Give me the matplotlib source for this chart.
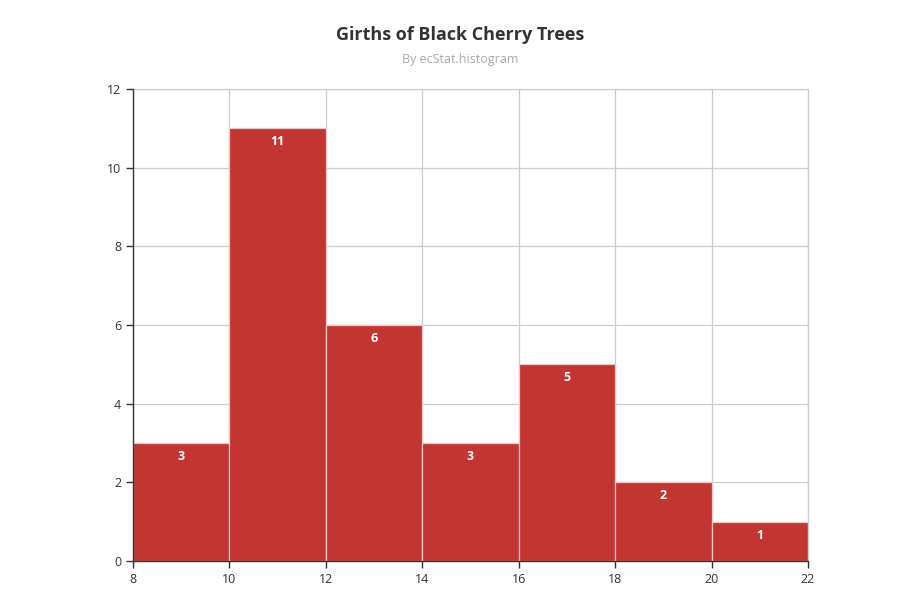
import matplotlib
matplotlib.use("Agg")
import matplotlib.pyplot as plt

# histogram bins (girth) and counts
bin_edges = [8, 10, 12, 14, 16, 18, 20, 22]
counts = [3, 11, 6, 3, 5, 2, 1]
title = "Girths of Black Cherry Trees"
subtitle = "By ecStat.histogram"

plt.rcParams["font.family"] = ["Open Sans", "DejaVu Sans"]

W, H = 906, 605
fig = plt.figure(figsize=(W / 100, H / 100), dpi=100)
ax = fig.add_axes([133 / W, (H - 561) / H, (808 - 133) / W, (561 - 89) / H])

lefts = bin_edges[:-1]
widths = [b - a for a, b in zip(bin_edges[:-1], bin_edges[1:])]
bars = ax.bar(lefts, counts, width=widths, align="edge", color="#c23531",
              edgecolor="#e8c8c8", linewidth=0.9, zorder=2)

for x, w, c in zip(lefts, widths, counts):
    ax.text(x + w / 2, c - 0.18, str(c), ha="center", va="top",
            color="white", fontsize=9, fontweight="bold", zorder=3)

ax.set_xlim(8, 22)
ax.set_ylim(0, 12)
ax.set_xticks(bin_edges)
ax.set_yticks(range(0, 13, 2))
ax.grid(True, color="#cccccc", linewidth=0.9, zorder=0)
ax.set_axisbelow(True)

for s in ["top", "right"]:
    ax.spines[s].set_color("#cccccc")
    ax.spines[s].set_linewidth(0.9)
for s in ["left", "bottom"]:
    ax.spines[s].set_color("#333333")
    ax.spines[s].set_linewidth(1.0)
    ax.spines[s].set_zorder(4)

ax.tick_params(axis="both", colors="#333333", labelsize=9, length=5, width=1,
               direction="out")

fig.text(460 / W, 1 - 35 / H, title, ha="center", va="center", fontsize=13,
         fontweight="bold", color="#333333")
fig.text(460 / W, 1 - 60 / H, subtitle, ha="center", va="center", fontsize=9,
         color="#aaaaaa")

fig.savefig("out.png", dpi=100)
